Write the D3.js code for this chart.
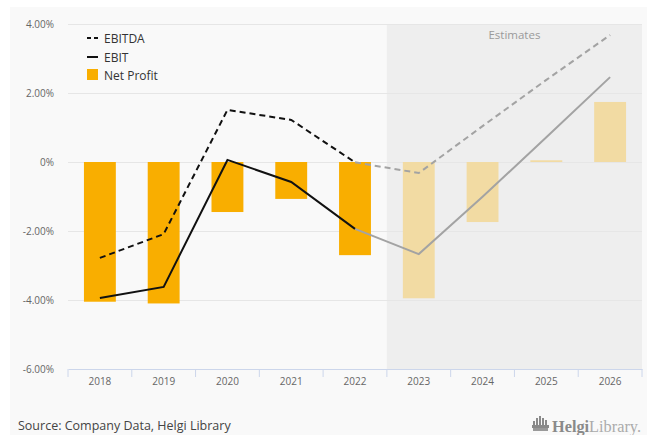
<!DOCTYPE html>
<html>
<head>
<meta charset="utf-8">
<script src="https://cdn.jsdelivr.net/npm/d3@7"></script>
<style>
  html, body { margin: 0; padding: 0; background: #ffffff; }
  svg { display: block; font-family: "Open Sans", "Noto Sans", sans-serif; }
</style>
</head>
<body>
<svg id="chart" width="647" height="435"></svg>
<script>
// Years shown on the category axis; from 2023 onward the figures are estimates
const years = ["2018", "2019", "2020", "2021", "2022", "2023", "2024", "2025", "2026"];
const firstEstimate = "2023";

// Margins in percent of sales
const netProfit = [-4.05, -4.10, -1.45, -1.07, -2.70, -3.95, -1.74, 0.05, 1.74];
const ebitda    = [-2.78, -2.09, 1.51, 1.22, -0.01, -0.32, 1.04, 2.38, 3.68];
const ebit      = [-3.94, -3.62, 0.06, -0.58, -1.94, -2.67, -1.01, 0.72, 2.46];

const yTicks = [-6, -4, -2, 0, 2, 4];
const yTickLabels = ["-6.00%", "-4.00%", "-2.00%", "0%", "2.00%", "4.00%"];

const svg = d3.select("#chart");
const W = 647, H = 435;
const plot = { left: 68, right: 642, top: 24, bottom: 369 };

// Panel background
svg.append("rect").attr("x", 10).attr("y", 7).attr("width", W - 10).attr("height", H - 7)
  .attr("fill", "#f9f9f9");

const x = d3.scaleBand().domain(years).range([plot.left, plot.right]).paddingInner(0.5).paddingOuter(0.25);
const xSlot = d3.scaleBand().domain(years).range([plot.left, plot.right]);
const y = d3.scaleLinear().domain([-6, 4]).range([plot.bottom, plot.top]);

// Estimates band
const estIdx = years.indexOf(firstEstimate);
svg.append("rect")
  .attr("x", xSlot(firstEstimate)).attr("y", plot.top)
  .attr("width", plot.right - xSlot(firstEstimate)).attr("height", plot.bottom - plot.top)
  .attr("fill", "#eeeeee");
svg.append("text")
  .attr("x", (xSlot(firstEstimate) + plot.right) / 2).attr("y", 39)
  .attr("text-anchor", "middle").attr("font-size", 11.5).attr("fill", "#9a9a9a")
  .text("Estimates");

// Grid lines and y labels
const yAxis = d3.axisLeft(y).tickValues(yTicks)
  .tickFormat((d, i) => yTickLabels[i]).tickSize(-(plot.right - plot.left)).tickPadding(14);
const gy = svg.append("g").attr("transform", `translate(${plot.left},0)`).call(yAxis);
gy.select(".domain").remove();
gy.selectAll(".tick line").attr("stroke", "#e6e6e6").attr("stroke-width", 1);
gy.selectAll(".tick text").attr("fill", "#666666").attr("font-size", 10)
  .attr("font-family", "Open Sans, Noto Sans, sans-serif");
gy.selectAll(".tick").filter(d => d === -6).select("line").remove();

// Bars
svg.append("g").selectAll("rect").data(years).join("rect")
  .attr("x", d => x(d))
  .attr("width", x.bandwidth())
  .attr("y", (d, i) => y(Math.max(0, netProfit[i])))
  .attr("height", (d, i) => Math.abs(y(netProfit[i]) - y(0)))
  .attr("fill", (d, i) => i >= estIdx ? "#f2dba3" : "#f9ae00");

// Lines: actual part in black, estimate part in grey
const cx = d => xSlot(d) + xSlot.bandwidth() / 2;
function drawSeries(values, dash) {
  const pts = years.map((d, i) => [cx(d), y(values[i])]);
  const line = d3.line();
  svg.append("path").attr("d", line(pts.slice(estIdx - 1)))
    .attr("fill", "none").attr("stroke", "#a3a3a3").attr("stroke-width", 2)
    .attr("stroke-dasharray", dash);
  svg.append("path").attr("d", line(pts.slice(0, estIdx)))
    .attr("fill", "none").attr("stroke", "#111111").attr("stroke-width", 2)
    .attr("stroke-dasharray", dash);
}
drawSeries(ebitda, "6,4");
drawSeries(ebit, null);

// X axis
const xAxis = d3.axisBottom(xSlot).tickSize(0).tickPadding(9);
const gx = svg.append("g").attr("transform", `translate(0,${plot.bottom})`).call(xAxis);
gx.select(".domain").attr("stroke", "#ccd6eb");
gx.selectAll(".tick text").attr("fill", "#666666").attr("font-size", 10)
  .attr("font-family", "Open Sans, Noto Sans, sans-serif");
const bounds = years.map(d => xSlot(d)).concat([plot.right]);
svg.append("g").selectAll("line").data(bounds).join("line")
  .attr("x1", d => d).attr("x2", d => d)
  .attr("y1", plot.bottom).attr("y2", plot.bottom + 8)
  .attr("stroke", "#ccd6eb");

// Legend
const legend = svg.append("g").attr("font-size", 12).attr("fill", "#333333");
const lg = [
  { name: "EBITDA", type: "dash", yy: 38 },
  { name: "EBIT", type: "line", yy: 57 },
  { name: "Net Profit", type: "box", yy: 75 }
];
lg.forEach(it => {
  if (it.type === "box") {
    legend.append("rect").attr("x", 87).attr("y", it.yy - 6).attr("width", 11).attr("height", 11)
      .attr("fill", "#f9ae00");
  } else {
    legend.append("line").attr("x1", 87).attr("x2", 98).attr("y1", it.yy).attr("y2", it.yy)
      .attr("stroke", "#111").attr("stroke-width", 2)
      .attr("stroke-dasharray", it.type === "dash" ? "4,3" : null);
  }
  legend.append("text").attr("x", 104).attr("y", it.yy + 4.5).attr("fill", "#333333").text(it.name);
});

// Source note
svg.append("text").attr("x", 18).attr("y", 430).attr("font-size", 12.5).attr("fill", "#444444")
  .text("Source: Company Data, Helgi Library");

// Helgi Library mark
const logo = svg.append("g").attr("transform", "translate(533,419)");
[[0, 4], [3, 7], [6, 9], [9, 7], [12, 5]].forEach(([dx, h]) => {
  logo.append("rect").attr("x", dx).attr("y", 6 - h).attr("width", 2).attr("height", h).attr("fill", "#8a8a8a");
});
logo.append("rect").attr("x", -1).attr("y", 6).attr("width", 17).attr("height", 3).attr("fill", "#8a8a8a");
logo.append("rect").attr("x", 0).attr("y", 9).attr("width", 15).attr("height", 3).attr("fill", "#9a9a9a");
const lt = logo.append("text").attr("x", 19).attr("y", 13)
  .attr("font-family", "Liberation Serif, DejaVu Serif, serif").attr("font-size", 16.5).attr("fill", "#8a8a8a")
  .attr("textLength", 89).attr("lengthAdjust", "spacingAndGlyphs");
lt.append("tspan").attr("font-weight", "bold").text("Helgi");
lt.append("tspan").attr("fill", "#ababab").text("Library.");
</script>
</body>
</html>
